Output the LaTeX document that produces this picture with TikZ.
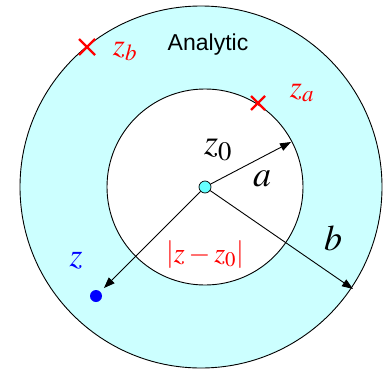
\documentclass[tikz,border=0pt]{standalone}
\usepackage{mathptmx}
\usepackage{fontspec}
\setsansfont{Liberation Sans}
\usetikzlibrary{arrows.meta}
\definecolor{annulus}{RGB}{204,255,255}
\definecolor{centre}{RGB}{102,255,255}
\begin{document}
\begin{tikzpicture}[x=1pt,y=-1pt,
  ray/.style={-{Triangle[length=11pt,width=8pt]},line width=0.9pt},
  cross/.style={red,line width=2.4pt},
  lab/.style={font=\fontsize{36}{40}\selectfont},
  redlab/.style={red,font=\fontsize{31}{34}\selectfont}
]
\useasboundingbox (0,0) rectangle (388,372);
% the two circles
\filldraw[fill=annulus,line width=0.9pt] (201,187) circle (181);
\filldraw[fill=white,line width=0.9pt] (205,187) circle (98);
% centre and point
\node[circle,draw,fill=centre,inner sep=0pt,minimum size=12pt,line width=0.7pt] (c) at (205,187) {};
\node[circle,fill=blue,inner sep=0pt,minimum size=12pt] (z) at (96,296) {};
\coordinate (ea) at (291,142);
\coordinate (eb) at (353,289);
\draw[ray] (c) -- (ea);
\draw[ray] (c) -- (eb);
\draw[ray,shorten >=5pt] (c) -- (z);
% crosses
\draw[cross] (79,39) -- (95,55) (79,55) -- (95,39);
\draw[cross] (251,96) -- (265,110) (251,110) -- (265,96);
% labels
\node[font=\sffamily\fontsize{23}{27}\selectfont] (an) at (208,45) {Analytic};
\node[lab] (lz0) at (218,150) {$z_0$};
\node[lab] (la) at (262,179) {$a$};
\node[lab] (lb) at (333,238) {$b$};
\node[blue,font=\fontsize{33}{36}\selectfont] (lz) at (76,261) {$z$};
\node[redlab] (lza) at (302,93) {$z_a$};
\node[redlab] (lzb) at (125,51) {$z_b$};
\node[red,font=\fontsize{28}{31}\selectfont] (ld) at (205,255) {$\left|z-z_0\right|$};
\end{tikzpicture}
\end{document}
